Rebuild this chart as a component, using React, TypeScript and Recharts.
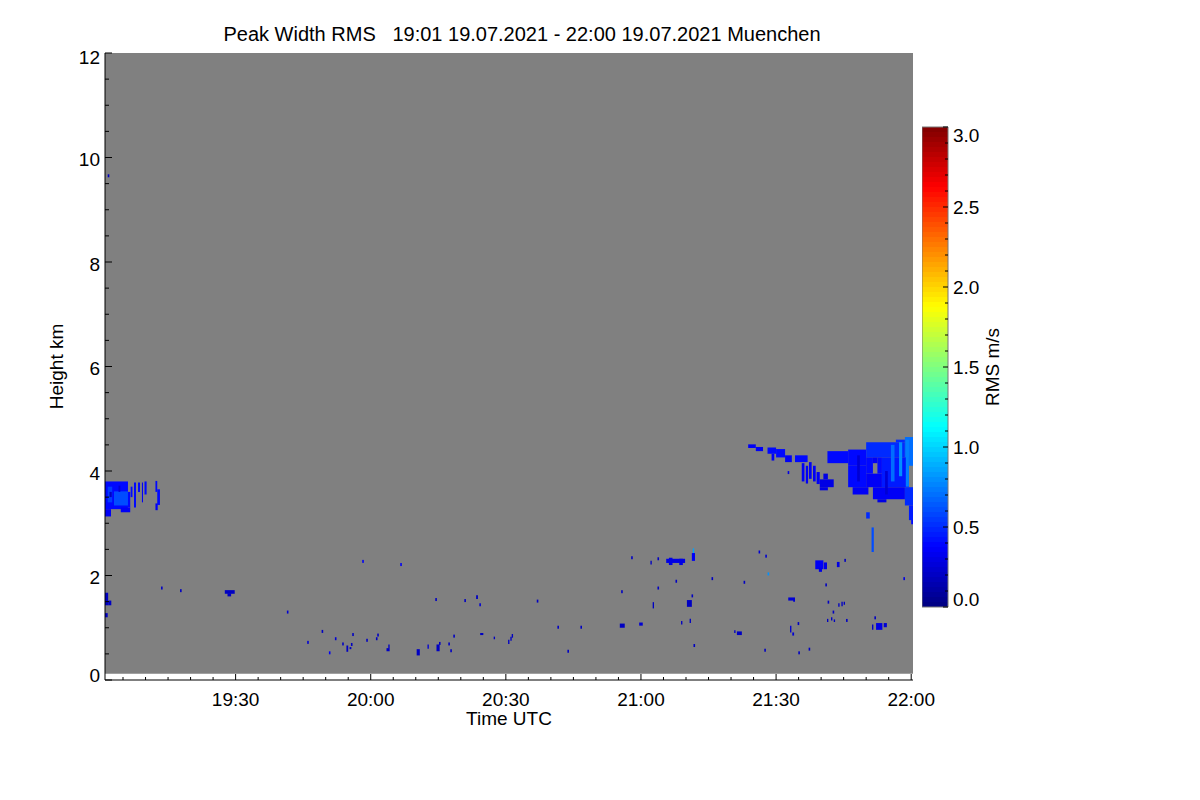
import { ComposedChart, XAxis, YAxis, Scatter, ReferenceArea } from "recharts"

const FONT = "'Liberation Sans', Arial, Helvetica, sans-serif"

// time: minutes after 19:00 UTC, height: km, rms: m/s
const timeDomain = [1, 180.4]
const heightDomain = [0, 12]
const rmsDomain = [0, 3]

const majorTimeTicks = [30, 60, 90, 120, 150, 180]
const timeTickLabels = ["19:30", "20:00", "20:30", "21:00", "21:30", "22:00"]
const timeTicks = [
  5, 10, 15, 20, 25, 30, 35, 40, 45, 50, 55, 60, 65, 70, 75, 80, 85, 90,
  95, 100, 105, 110, 115, 120, 125, 130, 135, 140, 145, 150, 155, 160, 165,
  170, 175, 180
]
const majorHeightTicks = [0, 2, 4, 6, 8, 10, 12]
const heightTicks = [
  0, 0.5, 1, 1.5, 2, 2.5, 3, 3.5, 4, 4.5, 5, 5.5, 6, 6.5, 7, 7.5, 8, 8.5,
  9, 9.5, 10, 10.5, 11, 11.5, 12
]
const majorRmsTicks = [0, 0.5, 1, 1.5, 2, 2.5, 3]
const rmsTicks = [
  0, 0.1, 0.2, 0.3, 0.4, 0.5, 0.6, 0.7, 0.8, 0.9, 1, 1.1, 1.2, 1.3, 1.4, 1.5,
  1.6, 1.7, 1.8, 1.9, 2, 2.1, 2.2, 2.3, 2.4, 2.5, 2.6, 2.7, 2.8, 2.9, 3
]

// lowest range gate, below it the plot stays white
const firstGate = 0.12

// single range gates: [time, height, rms]
const echoDots: [number, number, number][] = [
  [1.78, 9.65, 0.2], [13.62, 1.76, 0.2], [17.84, 1.71, 0.2], [41.56, 1.3, 0.25],
  [46.07, 0.72, 0.25], [49.27, 0.93, 0.2], [52.22, 0.79, 0.25], [50.89, 0.52, 0.35],
  [53.84, 0.69, 0.2], [56.07, 0.87, 0.2], [55.78, 0.68, 0.2], [59.18, 0.76, 0.2],
  [61.62, 0.86, 0.2], [61.33, 0.79, 0.2], [58.29, 2.27, 0.35], [66.73, 2.21, 0.35],
  [74.51, 1.54, 0.2], [75.33, 0.7, 0.2], [77.4, 0.69, 0.2], [77.84, 0.56, 0.2],
  [78.51, 0.84, 0.2], [80.96, 1.52, 0.2], [84.29, 1.44, 0.25], [97.04, 1.51, 0.2],
  [101.62, 1.01, 0.2], [103.84, 0.55, 0.2], [106.73, 1.01, 0.2], [115.78, 1.69, 0.2],
  [118.0, 2.34, 0.2], [123.84, 2.32, 0.2], [123.84, 1.76, 0.2], [127.84, 1.89, 0.2],
  [131.4, 1.61, 0.2], [131.84, 0.66, 0.2], [135.84, 1.94, 0.2], [142.96, 1.87, 0.2],
  [146.29, 2.45, 0.25], [147.78, 2.37, 0.25], [148.29, 2.03, 0.8], [147.56, 0.57, 0.2],
  [155.11, 0.52, 0.2], [157.4, 0.59, 0.2], [161.11, 1.82, 0.2], [162.73, 1.3, 0.2],
  [165.71, 1.14, 0.2], [161.62, 1.49, 0.2], [165.33, 2.29, 0.2], [172.0, 1.19, 0.2],
  [178.44, 1.94, 0.3], [154.96, 1.08, 0.2], [152.75, 3.97, 0.3]
]

// patches of echo: [time from, time to, height from, height to, rms]
const leftCloud: [number, number, number, number, number][] = [
  [1.0, 6.1, 3.27, 3.8, 0.4], [1.0, 2.33, 3.13, 3.27, 0.35], [3.0, 6.1, 3.34, 3.61, 0.6],
  [1.6, 2.6, 3.4, 3.7, 0.55], [4.5, 6.6, 3.21, 3.3, 0.35], [6.1, 6.6, 3.3, 3.6, 0.4],
  [6.7, 7.1, 3.5, 3.7, 0.4], [7.44, 7.88, 3.3, 3.78, 0.4], [8.33, 8.77, 3.6, 3.78, 0.4],
  [9.2, 9.44, 3.4, 3.78, 0.35], [9.77, 10.24, 3.55, 3.8, 0.4],
  [12.2, 12.6, 3.6, 3.81, 0.4], [12.6, 13.2, 3.35, 3.65, 0.4], [12.2, 12.7, 3.25, 3.38, 0.35],
  [2.0, 2.5, 3.5, 3.6, 0.2], [4.0, 4.4, 3.6, 3.72, 0.25]
]

const upperStreaks: [number, number, number, number, number][] = [
  [143.8, 145.5, 4.44, 4.51, 0.35], [145.5, 147.1, 4.38, 4.46, 0.35],
  [148.1, 150.0, 4.33, 4.45, 0.4], [149.0, 149.6, 4.2, 4.33, 0.35],
  [150.0, 152.0, 4.26, 4.42, 0.4], [152.0, 153.5, 4.17, 4.3, 0.35],
  [154.2, 157.0, 4.17, 4.3, 0.4], [155.7, 156.3, 3.8, 4.15, 0.35],
  [156.6, 157.1, 3.76, 4.1, 0.35], [157.3, 157.9, 3.85, 4.17, 0.35],
  [158.2, 158.8, 3.8, 4.1, 0.35], [159.0, 159.7, 3.75, 3.98, 0.35],
  [159.7, 162.8, 3.69, 3.84, 0.3], [160.5, 161.5, 3.84, 3.95, 0.3],
  [159.7, 161.5, 3.63, 3.69, 0.3]
]

const rightCloud: [number, number, number, number, number][] = [
  [161.4, 166.0, 4.15, 4.38, 0.4], [166.0, 170.0, 4.1, 4.41, 0.4],
  [170.0, 178.6, 4.26, 4.55, 0.5], [176.6, 178.6, 4.55, 4.6, 0.5],
  [178.6, 180.4, 4.1, 4.65, 0.7], [166.0, 170.0, 3.69, 4.1, 0.4],
  [170.0, 173.5, 3.69, 3.95, 0.35], [173.5, 179.5, 3.69, 4.26, 0.45],
  [170.0, 171.5, 3.95, 4.26, 0.4], [172.5, 173.5, 3.95, 4.26, 0.4],
  [171.5, 172.5, 4.15, 4.26, 0.35],
  [167.0, 170.5, 3.55, 3.69, 0.35], [171.5, 178.6, 3.46, 3.69, 0.35],
  [172.5, 174.5, 3.4, 3.46, 0.3], [175.5, 176.3, 3.8, 4.5, 0.7],
  [177.3, 178.0, 3.9, 4.55, 0.8], [178.8, 179.5, 3.7, 4.6, 0.75],
  [168.0, 168.6, 3.8, 4.3, 0.25], [174.2, 174.8, 3.55, 4.0, 0.25],
  [178.6, 180.4, 3.34, 3.69, 0.5], [179.5, 180.4, 3.06, 3.34, 0.45],
  [180.0, 180.4, 2.98, 3.06, 0.4], [170.0, 170.8, 3.09, 3.21, 0.5],
  [171.2, 171.7, 2.45, 2.92, 0.6]
]

const lowPatches: [number, number, number, number, number][] = [
  [0.9, 1.7, 1.43, 1.67, 0.2], [1.7, 2.4, 1.43, 1.52, 0.2], [0.9, 1.6, 1.2, 1.28, 0.2],
  [27.6, 29.8, 1.65, 1.72, 0.2], [28.2, 29.0, 1.6, 1.66, 0.2],
  [54.6, 55.0, 0.54, 0.66, 0.2], [55.3, 55.7, 0.59, 0.63, 0.2],
  [63.5, 64.2, 0.55, 0.61, 0.2], [63.9, 64.2, 0.61, 0.68, 0.2],
  [70.2, 70.9, 0.47, 0.59, 0.2], [72.6, 72.9, 0.6, 0.68, 0.25], [74.6, 75.3, 0.55, 0.68, 0.2],
  [83.4, 83.8, 1.55, 1.62, 0.2], [84.3, 85.0, 0.86, 0.9, 0.2], [87.3, 87.6, 0.78, 0.83, 0.2],
  [90.5, 90.8, 0.69, 0.77, 0.2], [91.0, 91.3, 0.75, 0.83, 0.2], [91.3, 91.6, 0.81, 0.88, 0.2],
  [122.1, 122.4, 2.21, 2.28, 0.2], [125.6, 129.8, 2.24, 2.32, 0.3],
  [126.2, 127.0, 2.2, 2.34, 0.3], [128.5, 129.3, 2.2, 2.32, 0.3],
  [131.3, 132.0, 2.28, 2.43, 0.35], [131.5, 131.8, 2.43, 2.52, 0.85],
  [130.2, 131.3, 1.4, 1.53, 0.2], [122.6, 122.9, 1.37, 1.49, 0.2],
  [115.3, 116.4, 1.0, 1.08, 0.2], [119.6, 120.4, 1.04, 1.1, 0.25],
  [128.9, 129.2, 1.06, 1.13, 0.2], [130.8, 131.1, 1.09, 1.17, 0.2],
  [140.7, 141.0, 0.9, 0.95, 0.2], [141.3, 142.4, 0.86, 0.93, 0.2],
  [158.7, 160.5, 2.12, 2.29, 0.35], [159.5, 160.2, 2.07, 2.15, 0.3],
  [160.6, 161.3, 2.12, 2.25, 0.3], [163.5, 164.1, 2.16, 2.26, 0.3],
  [152.7, 154.2, 1.52, 1.58, 0.25], [153.8, 154.2, 1.5, 1.55, 0.25],
  [163.8, 164.1, 1.4, 1.47, 0.2], [164.5, 164.8, 1.41, 1.5, 0.2], [165.0, 165.3, 1.44, 1.5, 0.2],
  [161.3, 161.6, 1.11, 1.17, 0.2], [162.2, 162.5, 1.14, 1.2, 0.2], [162.8, 163.1, 1.11, 1.16, 0.2],
  [153.1, 153.4, 0.91, 1.04, 0.25], [153.6, 154.0, 0.85, 0.91, 0.25],
  [171.3, 171.6, 0.96, 1.06, 0.2], [172.2, 173.6, 0.96, 1.09, 0.3], [173.9, 174.6, 1.01, 1.09, 0.25]
]

// IDL style jet colour table
function jet(v: number) {
  const f = Math.min(Math.max(v / rmsDomain[1], 0), 1)
  const ch = (c: number) =>
    Math.round(255 * Math.min(Math.max(1.5 - Math.abs(4 * f - c), 0), 1))
  return `rgb(${ch(3)},${ch(2)},${ch(1)})`
}

const dotData = echoDots.map(([t, h, rms]) => ({ t, h, rms }))
const patches = [...leftCloud, ...upperStreaks, ...rightCloud, ...lowPatches]

// colour bar levels
const barSteps = 96
const barLevels = Array.from({ length: barSteps }, (_, i) => (i * rmsDomain[1]) / barSteps)
const barData = rmsTicks.map((v) => ({ x: 0.5, v }))

const labelStyle = { fontSize: 19, fontFamily: FONT, fill: "#000" }

function TimeTick({ x, y, payload }: any) {
  const i = majorTimeTicks.indexOf(payload.value)
  return (
    <g>
      <line x1={x} x2={x} y1={y} y2={y - (i >= 0 ? 6 : 3)} stroke="#000" />
      {i >= 0 && (
        <text x={x} y={y + 26} textAnchor="middle" {...labelStyle}>
          {timeTickLabels[i]}
        </text>
      )}
    </g>
  )
}

function TopTick({ x, y, payload }: any) {
  const major = majorTimeTicks.includes(payload.value)
  return <line x1={x} x2={x} y1={y} y2={y + (major ? 6 : 3)} stroke="#000" />
}

function HeightTick({ x, y, payload }: any) {
  const v = payload.value
  const major = majorHeightTicks.includes(v)
  const shift = v === 12 ? 4 : v === 0 ? -5 : 1.5
  return (
    <g>
      <line x1={x} x2={x + (major ? 7 : 4)} y1={y} y2={y} stroke="#000" />
      {major && (
        <text x={x - 5} y={y + 7 + shift} textAnchor="end" {...labelStyle}>
          {v}
        </text>
      )}
    </g>
  )
}

function RightTick({ x, y, payload }: any) {
  const major = majorHeightTicks.includes(payload.value)
  return <line x1={x} x2={x - (major ? 7 : 4)} y1={y} y2={y} stroke="#000" />
}

function RmsTick({ x, y, payload }: any) {
  const v = payload.value
  const major = majorRmsTicks.includes(v)
  const shift = v === 0 ? -8.5 : v === 3 ? 7.5 : 0
  return (
    <g>
      <line x1={x} x2={x - (major ? 5 : 3)} y1={y} y2={y} stroke="#000" />
      {major && (
        <text x={x + 5} y={y + 7 + shift} textAnchor="start" {...labelStyle}>
          {v.toFixed(1)}
        </text>
      )}
    </g>
  )
}

function GateShape({ cx, cy, payload }: any) {
  return <rect x={cx - 0.8} y={cy - 1.5} width={1.6} height={3} fill={jet(payload.rms)} />
}

const NoShape = () => <g />

export default function App() {
  return (
    <div style={{ position: "relative", width: 1184, height: 784, background: "#fff" }}>
      <div
        style={{
          position: "absolute",
          top: 16,
          left: 514,
          transform: "translateX(-50%)",
          whiteSpace: "pre",
          fontFamily: FONT,
          fontSize: 20,
          lineHeight: "20px",
          color: "#000"
        }}
      >
        {"Peak Width RMS   19:01 19.07.2021 - 22:00 19.07.2021 Muenchen"}
      </div>

      <ComposedChart
        width={1000}
        height={760}
        margin={{ top: 45, right: 95, bottom: 0, left: 0 }}
        style={{ position: "absolute", left: 0, top: 0 }}
      >
        <XAxis
          xAxisId="t"
          type="number"
          dataKey="t"
          domain={timeDomain}
          allowDataOverflow
          ticks={timeTicks}
          interval={0}
          height={88}
          tickSize={0}
          tickMargin={0}
          tickLine={false}
          tick={TimeTick}
          axisLine={{ stroke: "#000" }}
          label={{ value: "Time UTC", position: "insideTop", offset: 32, ...labelStyle }}
        />
        <XAxis
          xAxisId="tTop"
          orientation="top"
          type="number"
          domain={timeDomain}
          allowDataOverflow
          ticks={timeTicks}
          interval={0}
          height={0}
          tickSize={0}
          tickMargin={0}
          tickLine={false}
          tick={TopTick}
          axisLine={{ stroke: "#000" }}
        />
        <YAxis
          yAxisId="h"
          type="number"
          dataKey="h"
          domain={heightDomain}
          allowDataOverflow
          ticks={heightTicks}
          interval={0}
          width={97}
          tickSize={0}
          tickMargin={0}
          tickLine={false}
          tick={HeightTick}
          axisLine={{ stroke: "#000" }}
          label={{ value: "Height km", angle: -90, position: "center", ...labelStyle }}
        />
        <YAxis
          yAxisId="hRight"
          orientation="right"
          type="number"
          domain={heightDomain}
          allowDataOverflow
          ticks={heightTicks}
          interval={0}
          width={0}
          tickSize={0}
          tickMargin={0}
          tickLine={false}
          tick={RightTick}
          axisLine={{ stroke: "#000" }}
        />

        <ReferenceArea
          xAxisId="t"
          yAxisId="h"
          x1={timeDomain[0]}
          x2={timeDomain[1]}
          y1={firstGate}
          y2={heightDomain[1]}
          fill="#808080"
          fillOpacity={1}
          stroke="none"
        />
        {patches.map(([t0, t1, h0, h1, rms], i) => (
          <ReferenceArea
            key={i}
            xAxisId="t"
            yAxisId="h"
            x1={t0}
            x2={t1}
            y1={h0}
            y2={h1}
            fill={jet(rms)}
            fillOpacity={1}
            stroke="none"
            ifOverflow="hidden"
          />
        ))}
        <Scatter
          xAxisId="t"
          yAxisId="h"
          data={dotData}
          shape={GateShape}
          isAnimationActive={false}
        />
      </ComposedChart>

      <ComposedChart
        width={114}
        height={620}
        margin={{ top: 119, right: 0, bottom: 21, left: 0 }}
        style={{ position: "absolute", left: 914, top: 0 }}
      >
        <XAxis xAxisId="c" type="number" dataKey="x" domain={[0, 1]} allowDataOverflow hide />
        <YAxis
          yAxisId="c"
          orientation="right"
          type="number"
          dataKey="v"
          domain={rmsDomain}
          allowDataOverflow
          ticks={rmsTicks}
          interval={0}
          width={88}
          tickSize={0}
          tickMargin={0}
          tickLine={false}
          axisLine={false}
          tick={RmsTick}
          label={{ value: "RMS m/s", angle: -90, position: "center", ...labelStyle }}
        />
        {barLevels.map((lv, i) => (
          <ReferenceArea
            key={i}
            xAxisId="c"
            yAxisId="c"
            x1={0}
            x2={1}
            y1={lv}
            y2={lv + rmsDomain[1] / barSteps}
            fill={jet(lv + rmsDomain[1] / barSteps / 2)}
            fillOpacity={1}
            stroke="none"
          />
        ))}
        <ReferenceArea
          xAxisId="c"
          yAxisId="c"
          x1={0}
          x2={1}
          y1={rmsDomain[0]}
          y2={rmsDomain[1]}
          fill="none"
          stroke="#777"
        />
        <Scatter
          xAxisId="c"
          yAxisId="c"
          data={barData}
          shape={NoShape}
          isAnimationActive={false}
        />
      </ComposedChart>
    </div>
  )
}
